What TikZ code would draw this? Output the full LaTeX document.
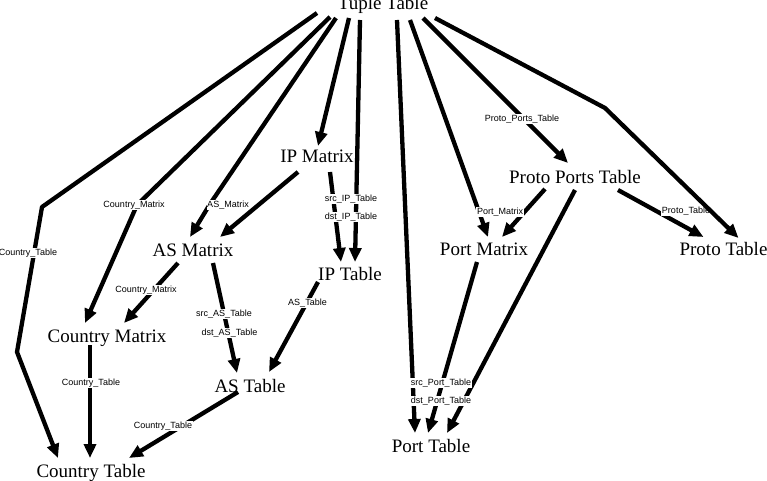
\documentclass[tikz,border=0pt]{standalone}
\usepackage{fontspec}
\setmainfont{Liberation Serif}
\newfontfamily\lblfont{Liberation Sans}
\usetikzlibrary{arrows.meta}
\begin{document}
\begin{tikzpicture}[x=1pt,y=-1pt,
  nd/.style={font=\fontsize{19}{22}\selectfont, inner sep=0pt, anchor=base},
  lbl/.style={font=\lblfont\fontsize{9}{10}\selectfont, fill=white, inner sep=0.6pt},
  edge/.style={line width=4.3pt, line join=round, -{Triangle[length=14pt,width=12pt]}}]
\useasboundingbox (0,0) rectangle (767,481);
% nodes
\node[nd] (tuple) at (383,10) {Tuple Table};
\node[nd] (ipm) at (317,163) {IP Matrix};
\node[nd] (asm) at (193,256) {AS Matrix};
\node[nd] (ipt) at (350,280) {IP Table};
\node[nd] (cm) at (107,342) {Country Matrix};
\node[nd] (ast) at (250,392) {AS Table};
\node[nd] (ct) at (91,477) {Country Table};
\node[nd] (pt) at (431,452) {Port Table};
\node[nd] (pm) at (484,255) {Port Matrix};
\node[nd] (ppt) at (575,183) {Proto Ports Table};
\node[nd] (prt) at (723.5,255) {Proto Table};
% edges
\draw[edge] ([shift={(-66,3)}]tuple.base) -- (42,207) -- (17,352) -- ([shift={(-33,-19)}]ct.base);
\draw[edge] ([shift={(-53,7)}]tuple.base) -- (137,205) -- ([shift={(-22,-19)}]cm.base);
\draw[edge] ([shift={(-47,8)}]tuple.base) -- (210,204) -- ([shift={(-3,-19)}]asm.base);
\draw[edge] ([shift={(-19,9)}]ipm.base) -- ([shift={(27,-19)}]asm.base);
\draw[edge] ([shift={(-34,8)}]tuple.base) -- ([shift={(1,-17)}]ipm.base);
\draw[edge] ([shift={(-23,10)}]tuple.base) -- ([shift={(5,-18)}]ipt.base);
\draw[edge] ([shift={(13,9)}]ipm.base) -- ([shift={(-9,-18)}]ipt.base);
\draw[edge] ([shift={(-15,7)}]asm.base) -- ([shift={(17,-19)}]cm.base);
\draw[edge] ([shift={(20,7)}]asm.base) -- ([shift={(-13,-19)}]ast.base);
\draw[edge] ([shift={(-32,2)}]ipt.base) -- ([shift={(19,-20)}]ast.base);
\draw[edge] ([shift={(-12,0)}]ast.base) -- ([shift={(38,-19)}]ct.base);
\draw[edge] ([shift={(-17,3)}]cm.base) -- ([shift={(-1,-19)}]ct.base);
\draw[edge] ([shift={(14,10)}]tuple.base) -- ([shift={(-16,-19)}]pt.base);
\draw[edge] ([shift={(-7,7)}]pm.base) -- ([shift={(-3,-19)}]pt.base);
\draw[edge] ([shift={(0,7)}]ppt.base) -- ([shift={(16,-19)}]pt.base);
\draw[edge] ([shift={(27,10)}]tuple.base) -- ([shift={(4,-18)}]pm.base);
\draw[edge] ([shift={(-30,6)}]ppt.base) -- ([shift={(18,-18)}]pm.base);
\draw[edge] ([shift={(40,8)}]tuple.base) -- ([shift={(-7,-20)}]ppt.base);
\draw[edge] ([shift={(43,7)}]ppt.base) -- ([shift={(-20,-18)}]prt.base);
% labels
\node[lbl] (l1) at (28,253) {Country\_Table};
\node[lbl] (l2) at (134,205) {Country\_Matrix};
\node[lbl] (l3) at (228,205) {AS\_Matrix};
\node[lbl] (l4a) at (351,199) {src\_IP\_Table};
\node[lbl] (l4b) at (351,217) {dst\_IP\_Table};
\node[lbl] (l5) at (146,290) {Country\_Matrix};
\node[lbl] (l6a) at (224,314) {src\_AS\_Table};
\node[lbl] (l6b) at (229.5,333) {dst\_AS\_Table};
\node[lbl] (l7) at (307.5,303) {AS\_Table};
\node[lbl] (l8) at (163,426) {Country\_Table};
\node[lbl] (l9) at (91,383) {Country\_Table};
\node[lbl] (l10a) at (441,383) {src\_Port\_Table};
\node[lbl] (l10b) at (441,401) {dst\_Port\_Table};
\node[lbl] (l11) at (500,212) {Port\_Matrix};
\node[lbl] (l12) at (522,119) {Proto\_Ports\_Table};
\node[lbl] (l13) at (686,211) {Proto\_Table};
% edge passing beside a label
\draw[edge] ([shift={(52,8)}]tuple.base) -- (605,108) -- ([shift={(15,-17)}]prt.base);
\end{tikzpicture}
\end{document}
